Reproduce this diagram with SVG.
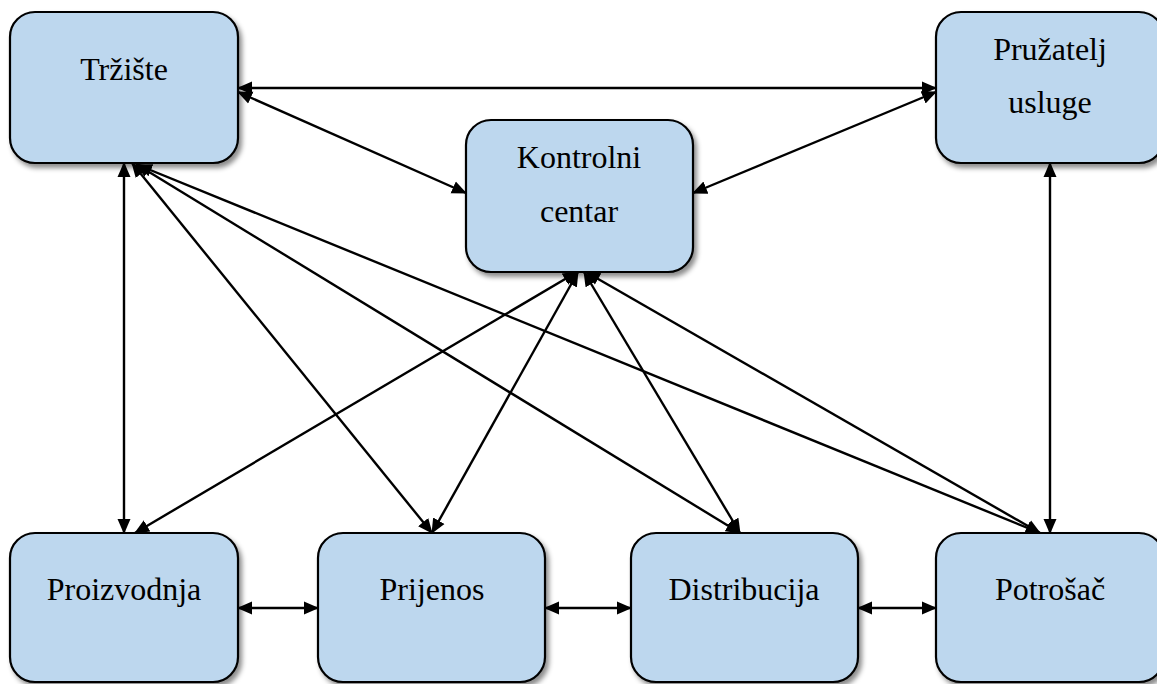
<svg xmlns="http://www.w3.org/2000/svg" width="1157" height="684" viewBox="0 0 1157 684">
<style>
.box{fill:#BDD7EE;stroke:#000;stroke-width:2.2;filter:url(#sh)}
.lbl{font-family:"Liberation Serif","Times New Roman",serif;font-size:32px;fill:#000;text-anchor:middle}
.c line{stroke:#000;stroke-width:2.4;marker-start:url(#ah);marker-end:url(#ah)}
</style>
<defs>
<filter id="sh" x="-10%" y="-10%" width="125%" height="125%">
<feDropShadow dx="3" dy="4" stdDeviation="2.5" flood-color="#000" flood-opacity="0.45"/>
</filter>
<marker id="ah" markerUnits="userSpaceOnUse" markerWidth="15" markerHeight="15" viewBox="0 0 15 15" refX="14" refY="7.5" orient="auto-start-reverse">
<path d="M0,1 L15,7.5 L0,14 Z" fill="#000"/>
</marker>
</defs>
<rect width="1157" height="684" fill="#fff"/>
<g id="trziste"><rect class="box" x="10" y="12" width="228" height="151" rx="25"/><text class="lbl" x="124" y="80">Tržište</text></g>
<g id="kontrolni-centar"><rect class="box" x="466" y="120" width="227" height="152" rx="25"/><text class="lbl" x="579" y="168">Kontrolni</text><text class="lbl" x="579" y="222">centar</text></g>
<g id="pruzatelj-usluge"><rect class="box" x="936" y="12" width="228" height="151" rx="25"/><text class="lbl" x="1050" y="60">Pružatelj</text><text class="lbl" x="1050" y="113">usluge</text></g>
<g id="proizvodnja"><rect class="box" x="10" y="533" width="228" height="149" rx="25"/><text class="lbl" x="124" y="600">Proizvodnja</text></g>
<g id="prijenos"><rect class="box" x="318" y="533" width="227" height="149" rx="25"/><text class="lbl" x="432" y="600">Prijenos</text></g>
<g id="distribucija"><rect class="box" x="631" y="533" width="227" height="149" rx="25"/><text class="lbl" x="744" y="600">Distribucija</text></g>
<g id="potrosac"><rect class="box" x="936" y="533" width="228" height="149" rx="25"/><text class="lbl" x="1050" y="600">Potrošač</text></g>
<g id="connectors" class="c">
<line x1="238" y1="88" x2="936" y2="88"/>
<line x1="238" y1="92" x2="466" y2="193"/>
<line x1="693" y1="193" x2="936" y2="92"/>
<line x1="124" y1="163" x2="124" y2="533"/>
<line x1="1050" y1="163" x2="1050" y2="533"/>
<line x1="132" y1="163" x2="432" y2="533"/>
<line x1="136" y1="164" x2="740" y2="533"/>
<line x1="138" y1="165" x2="1040" y2="533"/>
<line x1="577" y1="272" x2="135" y2="533"/>
<line x1="578" y1="272" x2="432" y2="533"/>
<line x1="584" y1="272" x2="740" y2="533"/>
<line x1="586" y1="272" x2="1040" y2="533"/>
<line x1="238" y1="608" x2="318" y2="608"/>
<line x1="545" y1="608" x2="631" y2="608"/>
<line x1="858" y1="608" x2="936" y2="608"/>
</g>
</svg>
